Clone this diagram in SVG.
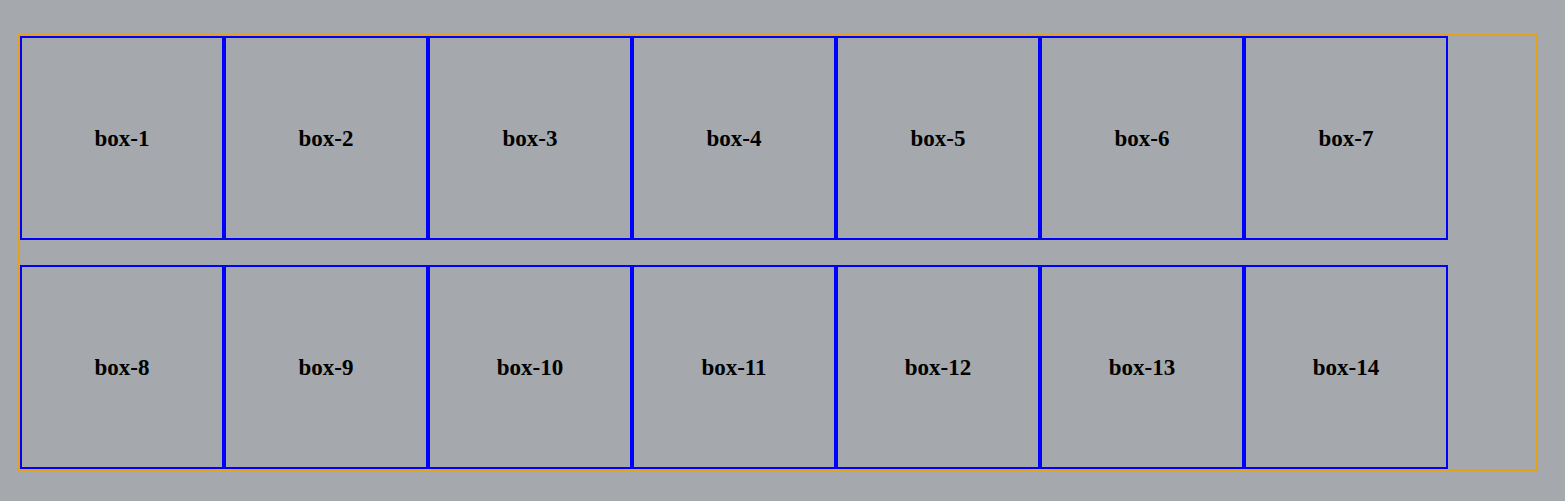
<svg xmlns="http://www.w3.org/2000/svg" width="1565" height="501" viewBox="0 0 1565 501">
<style>
.box{fill:none;stroke:#0000ff;stroke-width:2}
.lbl{font-family:"Liberation Serif",serif;font-weight:bold;font-size:23px;fill:#000;text-anchor:middle}
</style>
<rect x="0" y="0" width="1565" height="501" fill="#a5a9ad"/>
<g id="container"><rect x="19" y="35" width="1518" height="435" fill="none" stroke="#e3a21a" stroke-width="2"/></g>
<g id="box-1"><rect class="box" x="21" y="37" width="202" height="202"/><text class="lbl" x="122" y="146">box-1</text></g>
<g id="box-2"><rect class="box" x="225" y="37" width="202" height="202"/><text class="lbl" x="326" y="146">box-2</text></g>
<g id="box-3"><rect class="box" x="429" y="37" width="202" height="202"/><text class="lbl" x="530" y="146">box-3</text></g>
<g id="box-4"><rect class="box" x="633" y="37" width="202" height="202"/><text class="lbl" x="734" y="146">box-4</text></g>
<g id="box-5"><rect class="box" x="837" y="37" width="202" height="202"/><text class="lbl" x="938" y="146">box-5</text></g>
<g id="box-6"><rect class="box" x="1041" y="37" width="202" height="202"/><text class="lbl" x="1142" y="146">box-6</text></g>
<g id="box-7"><rect class="box" x="1245" y="37" width="202" height="202"/><text class="lbl" x="1346" y="146">box-7</text></g>
<g id="box-8"><rect class="box" x="21" y="266" width="202" height="202"/><text class="lbl" x="122" y="375">box-8</text></g>
<g id="box-9"><rect class="box" x="225" y="266" width="202" height="202"/><text class="lbl" x="326" y="375">box-9</text></g>
<g id="box-10"><rect class="box" x="429" y="266" width="202" height="202"/><text class="lbl" x="530" y="375">box-10</text></g>
<g id="box-11"><rect class="box" x="633" y="266" width="202" height="202"/><text class="lbl" x="734" y="375">box-11</text></g>
<g id="box-12"><rect class="box" x="837" y="266" width="202" height="202"/><text class="lbl" x="938" y="375">box-12</text></g>
<g id="box-13"><rect class="box" x="1041" y="266" width="202" height="202"/><text class="lbl" x="1142" y="375">box-13</text></g>
<g id="box-14"><rect class="box" x="1245" y="266" width="202" height="202"/><text class="lbl" x="1346" y="375">box-14</text></g>
<g id="connectors"></g>
</svg>
